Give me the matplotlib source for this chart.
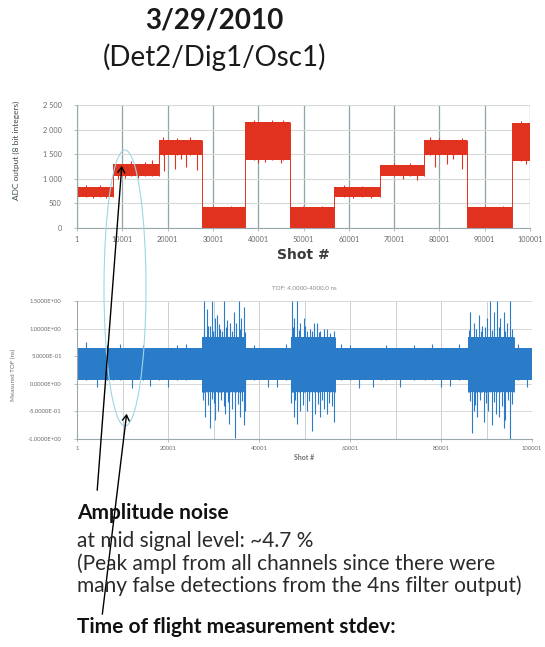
import numpy as np
import matplotlib
matplotlib.use("Agg")
import matplotlib.pyplot as plt
from matplotlib.patches import Ellipse, FancyArrowPatch

plt.rcParams['font.family'] = ['Lato', 'DejaVu Sans']

# ---- ADC output per run segment (shot # boundaries, band low/high) ----
seg_bounds = [1, 8000, 18000, 27500, 37000, 47000, 56800, 66800, 76500, 86000, 96000, 100001]
adc_low = [640, 1050, 1490, 0, 1380, 0, 640, 1060, 1490, 0, 1360]
adc_high = [840, 1300, 1790, 420, 2150, 420, 830, 1290, 1790, 420, 2140]

# excursions outside the main band (shot #, ADC value)
adc_spike_shot = [2000, 5000, 3500, 6500, 12000, 15000, 16500, 9000, 13500, 10500,
                  19000, 22000, 25000, 19100, 21700, 24100, 26500, 23000,
                  30000, 34000, 39000, 43000, 45500, 40000, 45000, 41500, 50000, 54000,
                  59000, 63000, 61000, 65000, 70000, 73500, 72000, 75000,
                  80000, 78000, 85000, 79000, 81600, 84900, 83000, 90000, 94000, 98000, 99200]
adc_spike_val = [880, 870, 600, 610, 1360, 1350, 1380, 1000, 1010, 1020,
                 1850, 1830, 1840, 1150, 1200, 1250, 1180, 1400,
                 450, 440, 2200, 2190, 2200, 1330, 1320, 1340, 440, 450,
                 870, 860, 600, 610, 1330, 1320, 1000, 980,
                 1830, 1840, 1820, 1250, 1300, 1200, 1400, 440, 450, 2180, 1310]

# ---- measured TOF per segment (dense core band) ----
tof_low = [0.07, 0.07, 0.07, -0.15, 0.07, -0.15, 0.07, 0.07, 0.07, -0.15, 0.07]
tof_high = [0.64, 0.64, 0.64, 0.85, 0.64, 0.85, 0.64, 0.64, 0.64, 0.85, 0.64]

tof_spike_shot = [27840, 28570, 29300, 29670, 30400, 30770, 31500, 32230, 33000, 33700, 34400, 35530, 36100, 36630,
                  28000, 28900, 29900, 31100, 31900, 32800, 34000, 35000, 35900, 36900,
                  28200, 29300, 30400, 31000, 32600, 33400, 34000, 34800, 35800, 36630, 37000,
                  27700, 28700, 29700, 30100, 31700, 32300, 33100, 35300, 36300,
                  47250, 47800, 48350, 49100, 49820, 50500, 51280, 52000, 52750, 53500, 54950, 56040,
                  47500, 48800, 50200, 51700, 53100, 54200, 55500, 56500,
                  47620, 48350, 49000, 50550, 51650, 52300, 53480, 54300, 54950, 56410,
                  47100, 48000, 49600, 51000, 52900, 53900, 55300, 56100,
                  86450, 87200, 88280, 89000, 90100, 90840, 91600, 92310, 93000, 93770, 94500, 95240,
                  86100, 87700, 88800, 89600, 91200, 92800, 94000, 95500,
                  86810, 87180, 88000, 89380, 90400, 91210, 92000, 92670, 93770, 94140, 95240,
                  86300, 87500, 88600, 89900, 91700, 93300, 94800, 95700,
                  2000, 4500, 9500, 12000, 14500, 20000, 24000, 39000, 42000,
                  58000, 62000, 68000, 71000, 78000, 82000, 97000, 99000,
                  6500, 16000, 22000, 44000, 46000, 60000, 65000, 74000, 80000, 84000]
tof_spike_val = [1.5, 1.35, 1.05, 1.5, 1.2, 1.25, 1.0, 1.5, 1.15, 1.1, 1.3, 1.5, 1.2, 1.4,
                 0.98, 1.05, 0.95, 1.08, 0.96, 1.02, 0.95, 1.1, 1.0, 0.94,
                 -0.6, -0.8, -0.65, -0.5, -0.55, -0.72, -0.45, -0.98, -0.6, -0.75, -0.5,
                 -0.3, -0.38, -0.28, -0.35, -0.3, -0.4, -0.33, -0.36, -0.32,
                 1.5, 1.2, 1.5, 1.1, 1.2, 0.95, 1.0, 1.1, 1.1, 0.95, 1.0, 0.85,
                 1.02, 0.98, 1.05, 0.96, 0.94, 1.0, 0.92, 0.95,
                 -0.6, -0.72, -0.5, -0.5, -0.85, -0.55, -0.6, -0.45, -0.55, -0.7,
                 -0.35, -0.3, -0.38, -0.32, -0.36, -0.3, -0.34, -0.4,
                 1.3, 1.1, 1.25, 1.05, 1.2, 1.5, 1.3, 1.5, 1.2, 1.3, 1.1, 1.5,
                 0.98, 1.0, 0.95, 1.03, 0.97, 1.02, 0.96, 1.0,
                 -0.9, -0.5, -0.6, -0.7, -0.5, -0.75, -0.55, -0.6, -0.8, -0.65, -1.0,
                 -0.32, -0.38, -0.3, -0.35, -0.33, -0.4, -0.3, -0.36,
                 0.75, -0.05, 0.72, -0.08, 0.7, -0.06, 0.72, 0.7, -0.05,
                 0.72, -0.07, 0.7, -0.06, 0.73, -0.04, 0.72, -0.05,
                 0.7, -0.04, 0.71, -0.05, 0.72, 0.71, -0.06, 0.7, -0.05, 0.72]

adc_ticks = [0, 500, 1000, 1500, 2000, 2500]
adc_tick_labels = ["0", "500", "1 000", "1 500", "2 000", "2 500"]
top_x_ticks = list(range(1, 100002, 10000))
bot_x_ticks = list(range(1, 100002, 20000))
tof_ticks = [-1.0, -0.5, 0.0, 0.5, 1.0, 1.5]
tof_tick_labels = ["-1.0000E+00", "-5.0000E-01", "0.0000E+00", "5.0000E-01", "1.0000E+00", "1.5000E+00"]

RED = "#e1321f"
BLUE = "#2a7cc8"
W, H = 545, 647


def band_plot(ax, bounds, lo, hi, spike_x, spike_y, color):
    for i in range(len(lo)):
        ax.fill_between([bounds[i], bounds[i + 1]], lo[i], hi[i], color=color, lw=0)
    for i in range(1, len(lo)):
        ax.vlines(bounds[i], min(lo[i - 1], lo[i]), max(hi[i - 1], hi[i]), color=color, lw=0.7)
    idx = np.clip(np.searchsorted(bounds, spike_x, side='right') - 1, 0, len(lo) - 1)
    lo_a, hi_a = np.asarray(lo)[idx], np.asarray(hi)[idx]
    sy = np.asarray(spike_y)
    ax.vlines(spike_x, np.minimum(sy, lo_a), np.maximum(sy, hi_a), color=color, lw=0.8)


def style_axes(ax, size, pad):
    for s in ["top", "right"]:
        ax.spines[s].set_visible(False)
    ax.spines["left"].set_color("#9aa8ad")
    ax.spines["bottom"].set_color("#9aa8ad")
    ax.tick_params(length=2, width=0.5, color="#9aa8ad", labelcolor="#6a6a6a", labelsize=size, pad=pad)


fig = plt.figure(figsize=(W / 100, H / 100), dpi=100)

# titles
fig.text(214 / W, 1 - 20 / H, "3/29/2010", ha="center", va="center", fontsize=20, fontweight="bold", color="#1a1a1a")
fig.text(215 / W, 1 - 57 / H, "(Det2/Dig1/Osc1)", ha="center", va="center", fontsize=20, color="#1a1a1a")

# ADC output chart
ax1 = fig.add_axes([77 / W, 1 - 228 / H, 453 / W, 123 / H])
ax1.set_xlim(1, 100001)
ax1.set_ylim(0, 2500)
ax1.set_xticks(top_x_ticks)
ax1.set_xticklabels([str(t) for t in top_x_ticks])
ax1.set_yticks(adc_ticks)
ax1.set_yticklabels(adc_tick_labels)
ax1.xaxis.grid(True, color="#8fa3aa", lw=0.9)
ax1.yaxis.grid(True, color="#d8d8d8", lw=0.8)
ax1.set_axisbelow(True)
style_axes(ax1, 5.2, 4)
ax1.tick_params(axis="y", pad=9)
band_plot(ax1, seg_bounds, adc_low, adc_high, adc_spike_shot, adc_spike_val, RED)
ax1.set_xlabel("Shot #", fontsize=10, fontweight="bold", color="#3a3a3a", labelpad=3,
               family=["DejaVu Sans"])
fig.text(16 / W, 1 - 150 / H, "ADC output (8 bit integers)", rotation=90, ha="center", va="center",
         fontsize=6, color="#3a4a4a")

# measured TOF chart
ax2 = fig.add_axes([77 / W, 1 - 439 / H, 455 / W, 138 / H])
ax2.set_xlim(1, 100001)
ax2.set_ylim(-1.0, 1.5)
ax2.set_xticks(bot_x_ticks)
ax2.set_xticklabels([str(t) for t in bot_x_ticks])
ax2.set_xticks(top_x_ticks, minor=True)
ax2.set_yticks(tof_ticks)
ax2.set_yticklabels(tof_tick_labels)
ax2.xaxis.grid(True, which="both", color="#c9cfd2", lw=0.7)
ax2.yaxis.grid(True, color="#d8d8d8", lw=0.7)
ax2.set_axisbelow(True)
style_axes(ax2, 4.2, 3)
ax2.tick_params(axis="y", pad=9)
ax2.tick_params(which="minor", length=0)
band_plot(ax2, seg_bounds, tof_low, tof_high, tof_spike_shot, tof_spike_val, BLUE)
ax2.set_xlabel("Shot #", fontsize=5, fontweight="bold", color="#707070", labelpad=2)
ax2.set_title("TOF: 4.0000-4000.0 ns", fontsize=4.5, color="#8a8a8a", pad=8)
fig.text(13 / W, 1 - 375 / H, "Measured TOF (ns)", rotation=90, ha="center", va="center",
         fontsize=4.5, color="#707070")

# highlighted region and pointers
ell = Ellipse((125 / W, 1 - 288 / H), 42 / W, 276 / H, transform=fig.transFigure,
              fill=False, edgecolor="#9fd6e6", lw=0.8)
fig.add_artist(ell)
for (x0, y0), (x1, y1) in [((97, 493), (122, 163)), ((102, 617), (127, 411))]:
    arr = FancyArrowPatch((x0 / W, 1 - y0 / H), (x1 / W, 1 - y1 / H), transform=fig.transFigure,
                          arrowstyle="->,head_length=4,head_width=2.5", color="black", lw=1.0)
    fig.add_artist(arr)

# notes
tx = 77 / W
fig.text(tx, 1 - 519 / H, "Amplitude noise", fontsize=15, fontweight="bold", color="#111111", va="baseline")
fig.text(tx, 1 - 547 / H, "at mid signal level: ~4.7 %", fontsize=15, color="#2a2a2a", va="baseline")
fig.text(tx, 1 - 570 / H, "(Peak ampl from all channels since there were", fontsize=15, color="#2a2a2a", va="baseline")
fig.text(tx, 1 - 592 / H, "many false detections from the 4ns filter output)", fontsize=15, color="#2a2a2a", va="baseline")
fig.text(tx, 1 - 633 / H, "Time of flight measurement stdev:", fontsize=15, fontweight="bold", color="#111111", va="baseline")

fig.savefig("out.png", dpi=100)
